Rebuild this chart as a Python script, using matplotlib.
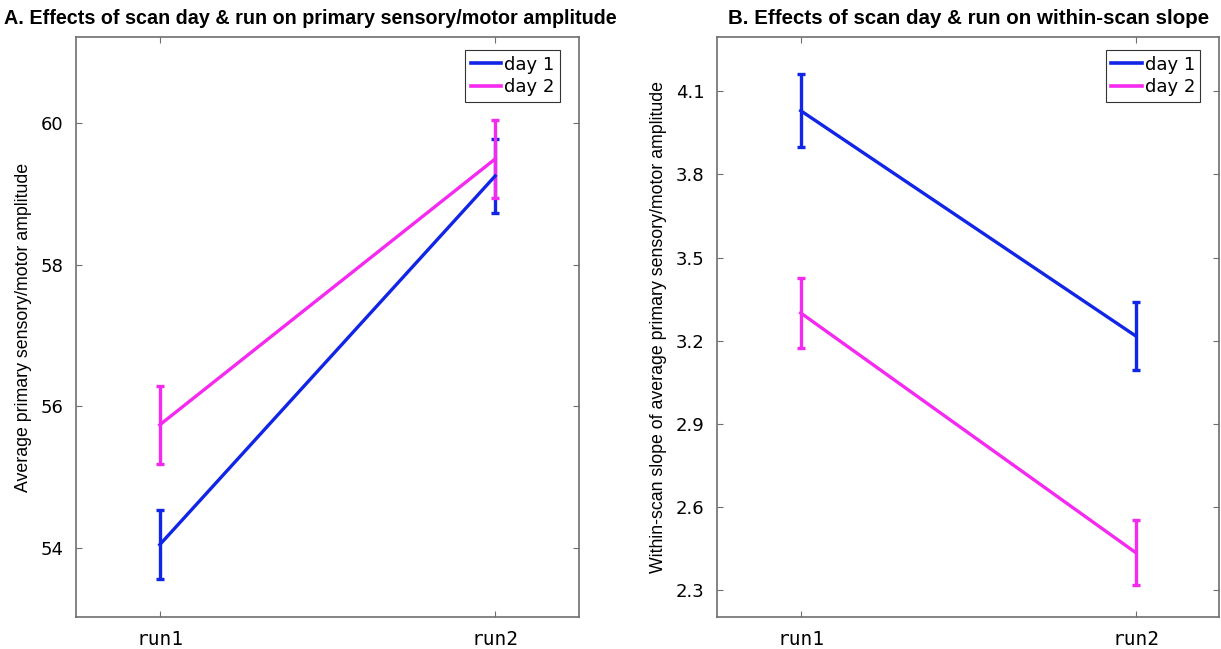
import matplotlib
matplotlib.use("Agg")
import matplotlib.pyplot as plt
from matplotlib.lines import Line2D

runs = ["run1", "run2"]
days = ["day 1", "day 2"]
colors = ["#1025e6", "#f52af0"]

amp_mean = {"day 1": [54.05, 59.25], "day 2": [55.74, 59.49]}
amp_err = {"day 1": [0.49, 0.52], "day 2": [0.55, 0.55]}
amp_yticks = [54, 56, 58, 60]

slope_mean = {"day 1": [4.03, 3.217], "day 2": [3.30, 2.435]}
slope_err = {"day 1": [0.132, 0.122], "day 2": [0.125, 0.117]}
slope_yticks = [2.3, 2.6, 2.9, 3.2, 3.5, 3.8, 4.1]

fig = plt.figure(figsize=(12.21, 6.49), dpi=100)
ax1 = fig.add_axes([0.0622, 0.0493, 0.412, 0.8937])
ax2 = fig.add_axes([0.5872, 0.0493, 0.4115, 0.8937])

axcol = "#6e6e6e"
x = [1, 2]

def style(ax, title, ylabel, yticks, ylim, fmt, title_x, title_fs):
    ax.set_xlim(0.75, 2.25)
    ax.set_ylim(*ylim)
    ax.set_xticks(x)
    ax.set_xticklabels(runs, fontsize=14, family="DejaVu Sans Mono")
    ax.set_yticks(yticks)
    ax.set_yticklabels([fmt.format(v) for v in yticks], fontsize=13)
    ax.tick_params(direction="in", length=4, width=0.8, color=axcol,
                   top=True, right=True, pad=9)
    for s in ax.spines.values():
        s.set_color(axcol)
        s.set_linewidth(1.2)
    ax.set_title(title, fontsize=title_fs, fontweight="bold", family="Liberation Sans",
                 pad=9, x=title_x)
    ax.set_ylabel(ylabel, fontsize=12.8, family="Liberation Sans", labelpad=6)
    handles = [Line2D([], [], color=c, lw=2.6) for c in colors]
    leg = ax.legend(handles, days, loc="upper right", fontsize=13, handlelength=1.7,
                    handletextpad=0.15, borderpad=0.3, labelspacing=0.25,
                    borderaxespad=0, fancybox=False, framealpha=1, edgecolor="#333333",
                    bbox_to_anchor=(0.962, 0.977))
    leg.get_frame().set_linewidth(0.8)

for d, c in zip(days, colors):
    ax1.errorbar(x, amp_mean[d], yerr=amp_err[d], color=c, lw=2.4,
                 elinewidth=2.4, capsize=3, capthick=2.4)
    ax2.errorbar(x, slope_mean[d], yerr=slope_err[d], color=c, lw=2.4,
                 elinewidth=2.4, capsize=3, capthick=2.4)

style(ax1, "A. Effects of scan day & run on primary sensory/motor amplitude",
      "Average primary sensory/motor amplitude", amp_yticks, (53.03, 61.21), "{:g}",
      0.466, 14.2)
style(ax2, "B. Effects of scan day & run on within-scan slope",
      "Within-scan slope of average primary sensory/motor amplitude",
      slope_yticks, (2.2025, 4.296), "{:.1f}", 0.5, 14.8)

fig.savefig("out.png", dpi=100)
